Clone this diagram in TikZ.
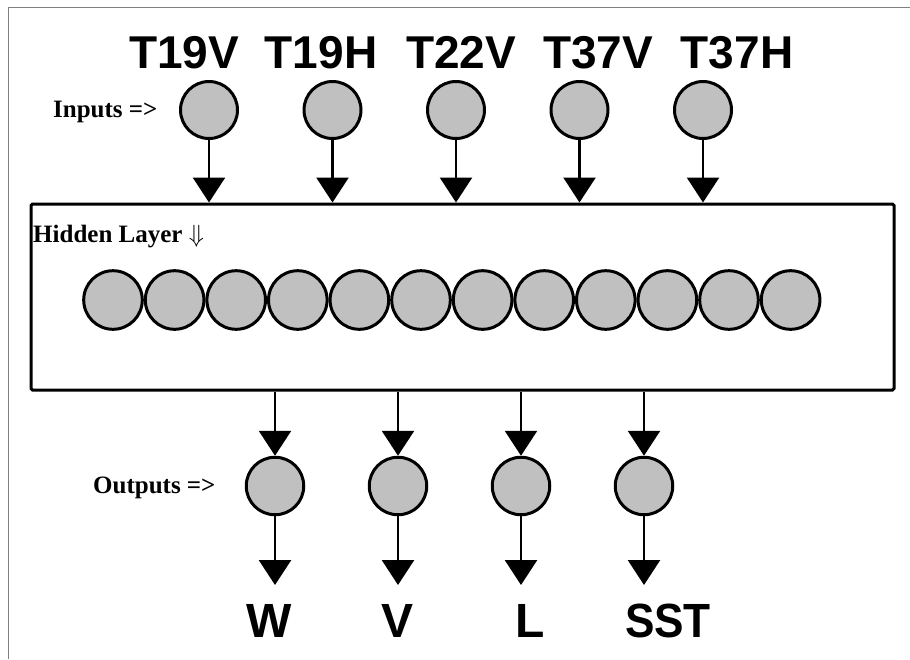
\documentclass[tikz,border=0pt]{standalone}
\usepackage{fontspec}
\setmainfont{Liberation Serif}
\setsansfont{Liberation Sans}
\usetikzlibrary{arrows.meta}
\definecolor{silv}{RGB}{192,192,192}
\definecolor{framegray}{RGB}{128,128,128}
\begin{document}
\begin{tikzpicture}[x=1pt,y=-1pt,
  unit/.style={circle,draw=black,fill=silv,line width=3pt,inner sep=0pt},
  inunit/.style={unit,minimum size=57pt},
  hidunit/.style={unit,minimum size=58.6pt},
  outunit/.style={unit,minimum size=57.5pt},
  conn/.style={line width=2.6pt,-{Triangle[width=32pt,length=25pt]}},
  biglab/.style={font=\sffamily\bfseries\fontsize{46}{50}\selectfont,inner sep=0pt,anchor=base},
  outlab/.style={font=\sffamily\bfseries\fontsize{48}{52}\selectfont,inner sep=0pt,anchor=base},
  smalllab/.style={font=\bfseries\fontsize{25}{28}\selectfont,inner sep=0pt,anchor=base west}]
\useasboundingbox (0,0) rectangle (910,659);
\fill[white] (0,0) rectangle (910,659);
% outer frame
\draw[draw=framegray,line width=1pt] (8,659) -- (8,7) -- (910,7);

% hidden layer box
\node[draw=black,line width=3pt,minimum width=863pt,minimum height=186pt,inner sep=0pt,rounded corners=1.5pt] (box) at (462.5,297) {};
\node[smalllab] (hidtxt) at (33,242) {Hidden Layer $\Downarrow$};

% input labels
\node[biglab] (l1) at (184,68) {T19V};
\node[biglab] (l2) at (321,68) {T19H};
\node[biglab] (l3) at (461,68) {T22V};
\node[biglab] (l4) at (598,68) {T37V};
\node[biglab] (l5) at (737,68) {T37H};
\node[smalllab] (intxt) at (53,117) {Inputs =>};

% input units
\foreach \i/\x in {1/209,2/332.5,3/456,4/579.5,5/703}{
  \node[inunit] (in\i) at (\x,110) {};
  \draw[conn] (in\i.south) -- (in\i.south |- box.north);
}

% hidden units
\foreach \i in {0,...,11}{
  \node[hidunit] (h\i) at ({113+61.6*\i},300) {};
}

% outputs
\node[smalllab] (outtxt) at (93,493) {Outputs =>};
\foreach \i/\x in {1/275,2/398,3/521,4/644}{
  \node[outunit] (o\i) at (\x,486) {};
  \coordinate (e\i) at (\x,585);
  \draw[conn] (o\i.north |- box.south) -- (o\i.north);
  \draw[conn] (o\i.south) -- (e\i);
}
\node[outlab] (r1) at (269.5,637) {W};
\node[outlab] (r2) at (398,637) {V};
\node[outlab] (r3) at (530,637) {L};
\node[outlab,xscale=0.92] (r4) at (668,637) {SST};
\end{tikzpicture}
\end{document}
